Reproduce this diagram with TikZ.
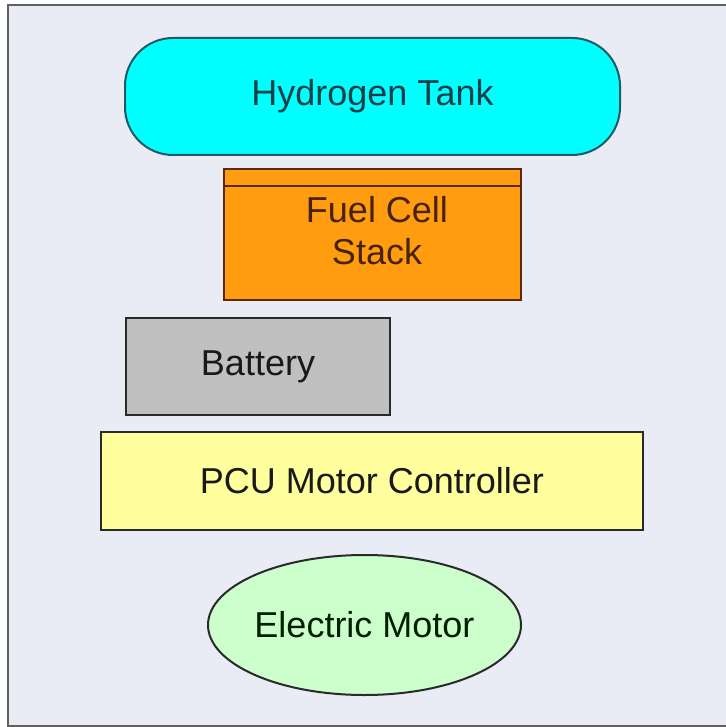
\documentclass[tikz,border=0pt]{standalone}
\usepackage{fontspec}
\setmainfont{Liberation Sans}
\usetikzlibrary{shapes.geometric}
\definecolor{bgc}{HTML}{E9ECF4}
\definecolor{framec}{HTML}{606060}
\definecolor{tankc}{HTML}{00FFFF}
\definecolor{tankd}{HTML}{1E5A66}
\definecolor{fcc}{HTML}{FF9C10}
\definecolor{fcd}{HTML}{5A2A08}
\definecolor{batc}{HTML}{C0C0C0}
\definecolor{pcuc}{HTML}{FFFF9E}
\definecolor{motc}{HTML}{CCFFCC}
\definecolor{darkc}{HTML}{2A2A2A}
\tikzset{
  blk/.style={draw=darkc, line width=2pt, inner sep=0pt, align=center,
    font=\fontsize{36}{40}\selectfont, text=black!90},
  lbl/.style={inner sep=0pt, align=center, font=\fontsize{36}{40}\selectfont},
}
\begin{document}
\begin{tikzpicture}[x=1pt,y=-1pt]
\useasboundingbox (0,0) rectangle (725,727);
\fill[white] (0,0) rectangle (725,727);
\draw[framec, line width=2.5pt, fill=bgc] (8,5) rectangle (732,726);
\node[blk, fill=tankc, draw=tankd, rounded corners=48pt,
      minimum width=495pt, minimum height=117pt, text=tankd!70!black]
  (tank) at (372.5,96.5) {Hydrogen Tank};
\node[blk, fill=fcc, draw=fcd, minimum width=297pt, minimum height=131pt]
  (fc) at (372.5,234.5) {};
\draw[fcd, line width=2pt] ([yshift=-18pt]fc.north west) -- ([yshift=-18pt]fc.north east);
\node[lbl, text=fcd!80!black] (fctext) at (377,231) {Fuel Cell\\[2pt]Stack};
\node[blk, fill=batc, minimum width=264pt, minimum height=97pt]
  (bat) at (258,366.5) {Battery};
\node[blk, fill=pcuc, minimum width=542pt, minimum height=98pt]
  (pcu) at (372,481) {PCU Motor Controller};
\node[blk, ellipse, fill=motc, minimum width=313pt, minimum height=140pt,
      text=black!80!green!60!black]
  (mot) at (364.5,625) {Electric Motor};
\end{tikzpicture}
\end{document}
